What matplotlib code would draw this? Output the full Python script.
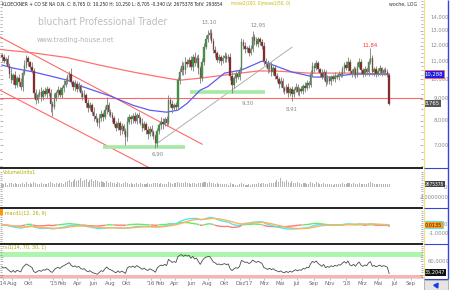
import os
import datetime as dt
import numpy as np
import matplotlib
matplotlib.use("Agg")
import matplotlib.pyplot as plt
from matplotlib import font_manager
from matplotlib.font_manager import FontProperties
from matplotlib.lines import Line2D
from matplotlib.patches import Rectangle
from matplotlib.transforms import blended_transform_factory
from matplotlib.ticker import FixedLocator, NullFormatter

# ---------------- data (weekly candles) ----------------
start_date = "2014-06-23"
first_open = 11.40
closes = [
    11.25, 11.05, 11.15, 10.75, 10.30, 9.95, 10.25, 9.70, 10.05, 9.85,
    9.60, 10.35, 10.80, 11.20, 10.95, 10.70, 10.45, 9.30, 8.95, 9.20,
    9.35, 9.10, 9.40, 9.25, 9.50, 9.30, 8.75, 8.60, 9.05, 9.30,
    9.45, 9.20, 9.55, 9.70, 9.90, 10.10, 10.30, 9.85, 9.60, 9.75,
    9.50, 9.65, 9.30, 9.10, 9.20, 8.80, 8.55, 8.70, 8.40, 8.20,
    8.05, 7.90, 8.10, 8.30, 8.15, 8.45, 8.70, 8.40, 8.25, 8.10,
    7.85, 7.70, 7.90, 7.60, 7.75, 7.55, 7.30, 7.95, 8.15, 8.05,
    8.20, 8.00, 8.25, 8.10, 7.90, 7.70, 7.85, 7.60, 7.45, 7.65,
    7.50, 7.35, 7.10, 7.55, 7.80, 7.95, 7.85, 8.05, 7.90, 8.95,
    8.75, 8.55, 8.70, 8.60, 9.95, 10.40, 10.75, 10.50, 11.00, 10.85,
    11.10, 10.70, 11.30, 10.90, 11.20, 10.60, 10.05, 11.00, 11.90, 12.40,
    12.70, 12.85, 12.30, 11.70, 11.50, 11.10, 11.25, 11.05, 11.20, 11.35,
    11.15, 11.30, 10.20, 9.70, 10.05, 10.30, 10.15, 10.50, 12.20, 12.00,
    11.75, 11.85, 11.55, 11.80, 12.55, 12.30, 12.10, 12.40, 12.20, 12.00,
    11.05, 10.85, 10.55, 10.80, 10.40, 10.60, 10.20, 10.00, 9.75, 9.90,
    9.55, 9.40, 9.60, 9.30, 9.50, 9.25, 9.45, 9.60, 9.35, 9.50,
    9.40, 9.65, 9.55, 9.80, 9.70, 10.30, 10.75, 10.60, 10.90, 10.55,
    10.35, 10.10, 10.40, 9.85, 10.05, 9.90, 10.15, 10.00, 10.20, 10.10,
    10.30, 10.25, 10.55, 10.80, 10.60, 11.00, 10.45, 10.30, 10.55, 10.25,
    10.70, 11.00, 10.50, 10.30, 10.55, 10.40, 10.95, 11.20, 10.40, 10.55,
    10.30, 10.45, 10.60, 10.35, 10.50, 10.40, 10.25, 8.765,
]
wick_up = [
    .15, .20, .10, .25, .15, .30, .10, .20, .15, .25, .20, .15, .30, .20, .15, .10, .25, .15, .20, .10,
    .15, .25, .10, .20, .15, .10, .20, .15, .25, .10, .20, .15, .10, .25, .15, .20, .15, .30, .10, .20,
    .15, .20, .10, .15, .25, .10, .20, .15, .10, .20, .15, .10, .20, .15, .10, .20, .40, .15, .10, .15,
    .10, .15, .20, .10, .15, .10, .15, .20, .15, .10, .15, .20, .10, .15, .10, .20, .15, .10, .15, .10,
    .15, .10, .10, .15, .10, .20, .15, .10, .15, .25, .15, .20, .10, .15, .20, .25, .30, .20, .25, .15,
    .20, .25, .15, .30, .20, .25, .15, .20, .25, .30, .35, .25, .30, .20, .25, .15, .20, .15, .20, .25,
    .20, .15, .25, .20, .15, .20, .15, .20, .30, .20, .25, .15, .20, .25, .40, .20, .25, .15, .20, .25,
    .20, .15, .25, .15, .20, .15, .20, .15, .10, .20, .15, .10, .15, .20, .10, .15, .10, .20, .15, .10,
    .15, .10, .20, .15, .10, .20, .25, .15, .20, .15, .10, .20, .15, .10, .20, .15, .10, .15, .20, .10,
    .15, .10, .20, .15, .25, .30, .15, .10, .20, .15, .25, .20, .15, .10, .20, .15, .20, .64, .20, .15,
    .20, .15, .20, .10, .15, .20, .15, .00,
]
wick_dn = [
    .20, .15, .20, .10, .25, .15, .20, .15, .10, .20, .15, .20, .10, .15, .20, .15, .10, .25, .20, .15,
    .10, .20, .15, .10, .20, .15, .35, .40, .10, .15, .20, .10, .15, .20, .10, .15, .20, .10, .15, .20,
    .15, .10, .20, .15, .10, .20, .15, .10, .15, .20, .10, .15, .20, .10, .15, .10, .15, .20, .10, .15,
    .10, .15, .10, .20, .15, .10, .30, .15, .10, .20, .15, .10, .15, .20, .10, .15, .10, .15, .20, .10,
    .15, .10, .20, .15, .10, .15, .20, .10, .15, .10, .15, .20, .10, .15, .10, .20, .15, .25, .20, .15,
    .15, .20, .25, .15, .20, .30, .25, .15, .20, .15, .20, .25, .15, .20, .25, .15, .20, .25, .15, .20,
    .15, .20, .25, .40, .15, .20, .15, .20, .15, .25, .20, .15, .20, .15, .20, .25, .15, .20, .15, .20,
    .25, .15, .20, .15, .20, .15, .20, .15, .20, .15, .20, .15, .10, .20, .15, .34, .15, .10, .15, .20,
    .10, .15, .20, .10, .15, .10, .15, .20, .10, .15, .20, .10, .15, .20, .10, .15, .20, .10, .15, .10,
    .15, .10, .15, .20, .10, .15, .20, .15, .10, .20, .15, .10, .20, .15, .10, .15, .20, .10, .15, .20,
    .15, .10, .20, .15, .10, .15, .10, .06,
]
volumes_m = [
    3.0, 2.5, 3.8, 2.2, 4.0, 3.5, 2.8, 3.2, 2.6, 3.0, 2.4, 3.6, 3.1, 4.2, 2.9, 3.3, 2.7, 4.5, 3.8, 3.0,
    2.8, 3.4, 2.6, 3.1, 2.5, 3.6, 4.4, 3.2, 2.9, 3.5, 3.0, 4.1, 3.3, 2.8, 4.8, 5.5, 6.2, 4.5, 5.8, 7.5,
    5.2, 6.8, 8.0, 5.5, 6.5, 7.2, 5.0, 6.0, 7.6, 5.4, 6.3, 5.1, 4.5, 5.8, 4.2, 3.8, 5.2, 3.5, 4.6, 3.2,
    3.8, 3.0, 4.2, 3.4, 2.8, 3.6, 5.0, 3.2, 2.9, 3.5, 3.1, 2.6, 3.3, 2.9, 3.7, 2.5, 3.1, 2.8, 3.4, 2.6,
    3.0, 3.5, 4.0, 3.2, 2.7, 3.4, 2.9, 3.1, 2.6, 4.5, 3.3, 3.0, 3.6, 3.2, 4.8, 4.0, 3.5, 3.9, 4.2, 3.4,
    3.6, 3.1, 3.8, 3.3, 3.0, 3.5, 4.0, 3.7, 4.4, 4.9, 3.8, 4.5, 3.6, 3.2, 2.9, 3.4, 2.6, 3.1, 2.8, 3.0,
    2.5, 2.2, 3.5, 3.0, 2.4, 2.0, 1.8, 2.3, 3.8, 2.6, 2.2, 2.0, 2.5, 2.1, 3.0, 2.4, 2.8, 3.2, 2.6, 3.4,
    3.8, 3.0, 2.9, 3.6, 3.3, 4.1, 5.0, 6.8, 4.2, 7.8, 5.5, 4.6, 6.0, 4.3, 3.9, 5.2, 3.8, 3.2, 4.4, 3.6,
    3.0, 4.0, 3.4, 3.1, 2.8, 4.2, 3.6, 3.0, 4.5, 3.3, 3.1, 2.7, 3.6, 2.9, 2.5, 2.8, 2.4, 2.2, 2.6, 2.3,
    2.5, 2.9, 3.4, 3.1, 2.7, 4.0, 3.2, 2.8, 3.6, 2.5, 2.9, 3.8, 3.0, 2.6, 3.1, 2.7, 3.5, 4.6, 3.2, 2.8,
    2.6, 3.0, 2.4, 2.9, 2.5, 2.7, 2.3, 2.675378,
]

# moving averages (week index, value)
ma50_week = [0, 6, 17, 35, 43, 58, 70, 79, 88, 94, 99, 106, 110, 119, 128, 139, 142, 155, 167, 176, 187, 207]
ma50_val = [10.80, 10.62, 10.40, 9.95, 9.61, 9.13, 8.69, 8.46, 8.37, 8.46, 8.78, 9.43, 9.61, 10.34,
            10.51, 11.03, 10.92, 10.40, 10.12, 10.12, 10.28, 10.28]
ma200_week = [-1, 17, 35, 52, 70, 88, 95, 106, 119, 137, 146, 164, 190, 207]
ma200_val = [11.75, 11.53, 11.24, 10.80, 10.40, 10.06, 9.95, 10.06, 10.23, 10.46, 10.46, 10.34, 10.34, 10.28]

# drawn lines (week index / price)
chan_upper_week = [-1.1, 107]
chan_upper_val = [12.57, 7.04]
chan_lower_week = [-1.1, 79]
chan_lower_val = [9.43, 6.19]
trend_week = [82.5, 155]
trend_val = [7.05, 11.89]
hline_red = 9.05
support_weeks = [(54, 98), (100.5, 140.5)]
support_vals = [6.93, 9.36]

peak_labels = ["13,10", "12,95", "11,84", "9,30", "8,91", "6,90"]
peak_weeks = [111, 137, 197, 131.5, 155, 83.5]
peak_vals = [13.6, 13.42, 12.05, 8.80, 8.52, 6.66]
peak_colors = ["#888888", "#888888", "#ff3030", "#888888", "#888888", "#888888"]

price_ticks = [7, 8, 9, 10, 11, 12, 13, 14]
price_tick_labels = ["7,000", "8,000", "9,000", "10,000", "11,000", "12,000", "13,000", "14,000"]

tick_labels = ["'14", "Aug", "Okt", "'15", "Feb", "Apr", "Jun", "Aug", "Okt", "'16", "Feb", "Apr",
               "Jun", "Aug", "Okt", "Dez", "'17", "Mrz", "Mai", "Jul", "Sep", "Nov", "'18", "Mrz",
               "Mai", "Jul", "Sep"]
tick_dates = ["2014-06-26", "2014-08-01", "2014-10-01", "2015-01-01", "2015-02-03", "2015-04-01",
              "2015-06-01", "2015-08-01", "2015-10-01", "2016-01-01", "2016-02-03", "2016-04-01",
              "2016-06-01", "2016-08-01", "2016-10-01", "2016-12-01", "2017-01-01", "2017-03-01",
              "2017-05-01", "2017-07-01", "2017-09-01", "2017-11-01", "2018-01-01", "2018-03-01",
              "2018-05-01", "2018-07-01", "2018-09-01"]

header_text = ("KLOECKNER + CO SE NA O.N. C: 8,765 O: 10,250 H: 10,250 L: 8,705 -0,340 "
               "LV: 2675378 TotV: 293854")

# ---------------- fonts ----------------
def pick_font():
    files = {}
    try:
        for p in font_manager.findSystemFonts():
            files[os.path.basename(p)] = p
    except Exception:
        pass
    for f in font_manager.fontManager.ttflist:
        files[os.path.basename(f.fname)] = f.fname
    for name in ["LiberationSansNarrow-Regular.ttf", "DejaVuSansCondensed.ttf",
                 "RobotoCondensed-Regular.ttf", "OpenSans_Condensed-Regular.ttf"]:
        if name in files:
            return files[name]
    return None

nf = pick_font()
def fp(size):
    if nf:
        return FontProperties(fname=nf, size=size)
    return FontProperties(family="DejaVu Sans", size=size)

# ---------------- figure ----------------
W, H = 450, 290
fig = plt.figure(figsize=(W / 100, H / 100), dpi=100)
fig.patch.set_facecolor("white")

def ax_px(x0, y0, x1, y1):
    return fig.add_axes([x0 / W, 1 - y1 / H, (x1 - x0) / W, (y1 - y0) / H])

PX_R = 423
n = min(len(closes), len(wick_up), len(wick_dn), len(volumes_m))
idx = np.arange(n)
c = np.array(closes[:n])
o = np.concatenate([[first_open], c[:-1]])
hi = np.maximum(o, c) + np.array(wick_up[:n])
lo = np.minimum(o, c) - np.array(wick_dn[:n])
vol = np.array(volumes_m[:n])
d0 = dt.date.fromisoformat(start_date)
XL = (-1.07, 225.1)

ax = ax_px(0, 0, PX_R, 168)
axv = ax_px(0, 169, PX_R, 207)
axm = ax_px(0, 209, PX_R, 244)
axr = ax_px(0, 245, PX_R, 278)

for a in (ax, axv, axm, axr):
    a.set_xlim(*XL)
    a.set_facecolor("white")
    for s in a.spines.values():
        s.set_visible(False)
    a.set_xticks([])
    a.tick_params(axis="y", which="both", direction="in", right=True, left=True,
                  labelleft=False, labelright=False, length=2, width=0.4, color="#777777")
    a.tick_params(axis="y", which="minor", length=1.2)

# ---- main price panel ----
ax.set_yscale("log")
ax.set_ylim(6.19, 15.35)
ax.yaxis.set_major_locator(FixedLocator(price_ticks))
ax.yaxis.set_minor_locator(FixedLocator(np.arange(6.25, 15.3, 0.25)))
ax.yaxis.set_major_formatter(NullFormatter())
ax.yaxis.set_minor_formatter(NullFormatter())

# watermark
ax.text(38 / PX_R, 1 - 22 / 168, "bluchart Professional Trader", transform=ax.transAxes,
        fontproperties=fp(7.4), color="#bdbdbd", ha="left", va="center", zorder=0)
ax.text(37 / PX_R, 1 - 40 / 168, "www.trading-house.net", transform=ax.transAxes,
        fontproperties=fp(5.3), color="#b2b2b2", ha="left", va="center", zorder=0)

# channel / trend lines
ax.plot(chan_upper_week, chan_upper_val, color="#ff6868", lw=0.8, zorder=1)
ax.plot(chan_lower_week, chan_lower_val, color="#ff6868", lw=0.8, zorder=1)
ax.axhline(hline_red, color="#ff6868", lw=0.8, zorder=1)
ax.plot(trend_week, trend_val, color="#b0b0b0", lw=0.7, zorder=1)
for (w0, w1), v in zip(support_weeks, support_vals):
    ax.plot([w0, w1], [v, v], color="#a6e8a6", lw=2.6, solid_capstyle="butt", zorder=1)

# moving averages
ax.plot(ma200_week, ma200_val, color="#ff7070", lw=0.9, zorder=2)
ax.plot(ma50_week, ma50_val, color="#5c5cf2", lw=0.9, zorder=2)

# candles
up = c >= o
ax.vlines(idx, lo, hi, color="#858585", lw=0.65, zorder=3)
body_lo = np.minimum(o, c)
body_h = np.maximum(np.abs(c - o), 0.03)
ax.bar(idx, body_h, bottom=body_lo, width=0.8,
       color=np.where(up, "#2f9a2f", "#8e1414"), edgecolor="#7a7a7a", linewidth=0.3, zorder=4)

for t, w, v, col in zip(peak_labels, peak_weeks, peak_vals, peak_colors):
    ax.text(w, v, t, fontproperties=fp(4.3), color=col, ha="center", va="center", zorder=5)

# header
ax.text(2 / PX_R, 1 - 4 / 168, header_text, transform=ax.transAxes, fontproperties=fp(3.5),
        color="#222222", ha="left", va="center", zorder=6)
ax.text(231 / PX_R, 1 - 4 / 168, "move2(200, 0)", transform=ax.transAxes, fontproperties=fp(3.3),
        color="#c8b400", ha="left", va="center", zorder=6)
ax.text(262 / PX_R, 1 - 4 / 168, "move1(50, 0)", transform=ax.transAxes, fontproperties=fp(3.3),
        color="#c8b400", ha="left", va="center", zorder=6)
ax.text(403 / PX_R, 1 - 4 / 168, "woche, LOG", transform=ax.transAxes, fontproperties=fp(3.8),
        color="#333333", ha="center", va="center", zorder=6)

# ---- volume panel ----
axv.set_ylim(-18.2, 16.4)
axv.yaxis.set_major_locator(FixedLocator([-10, 0]))
axv.yaxis.set_minor_locator(FixedLocator(np.arange(-16, 16, 2)))
axv.bar(idx, vol, width=0.55, color="#b4b4b4", zorder=2)
axv.text(3 / PX_R, 1 - 4 / 38, "VolumeUnits1", transform=axv.transAxes, fontproperties=fp(3.9),
         color="#b8a800", ha="left", va="center")

# ---- MACD panel ----
def ema(x, span):
    a = 2.0 / (span + 1)
    out = np.empty(len(x))
    out[0] = x[0]
    for k in range(1, len(x)):
        out[k] = a * x[k] + (1 - a) * out[k - 1]
    return out

macd = ema(c, 12) - ema(c, 26)
sig = ema(macd, 9)
hist = macd - sig
axm.set_ylim(-2.375, 2.0)
axm.yaxis.set_major_locator(FixedLocator([-1, 0]))
axm.yaxis.set_minor_locator(FixedLocator(np.arange(-2.25, 2.0, 0.25)))
hp = np.where(hist >= 0, hist, np.nan)
hn = np.where(hist < 0, hist, np.nan)
axm.plot(idx, hp, color="#6ee66e", lw=1.0, zorder=2)
axm.plot(idx, hn, color="#ff7a7a", lw=1.0, zorder=2)
axm.plot(idx, macd, color="#55e8f0", lw=1.0, zorder=3)
axm.plot(idx, sig, color="#ffb35c", lw=1.0, zorder=4)
axm.text(5 / PX_R, 1 - 4 / 35, "macd1(12, 26, 9)", transform=axm.transAxes, fontproperties=fp(3.9),
         color="#b8a800", ha="left", va="center")
fig.add_artist(Rectangle((0, 1 - 215 / H), 3 / W, 6 / H, transform=fig.transFigure,
                         facecolor="#ff9900", edgecolor="none"))

# ---- RSI panel ----
def rsi(x, n_=14):
    d = np.diff(x)
    g = np.where(d > 0, d, 0.0)
    l_ = np.where(d < 0, -d, 0.0)
    ag = np.empty(len(x)); al = np.empty(len(x))
    ag[0] = g[:n_].mean(); al[0] = l_[:n_].mean()
    for k in range(1, len(x)):
        ag[k] = (ag[k - 1] * (n_ - 1) + g[k - 1]) / n_
        al[k] = (al[k - 1] * (n_ - 1) + l_[k - 1]) / n_
    return 100 - 100 / (1 + ag / np.maximum(al, 1e-9))

r = rsi(c)
axr.set_ylim(22.5, 96.6)
axr.yaxis.set_major_locator(FixedLocator([30, 60, 70]))
axr.yaxis.set_minor_locator(FixedLocator(np.arange(25, 96, 5)))
axr.axhspan(70, 81, color="#adf5ad", lw=0, zorder=0)
axr.axhspan(20, 30, color="#f9b3b3", lw=0, zorder=0)
axr.plot(idx, r, color="#4a4a4a", lw=0.6, zorder=2)
axr.text(3 / PX_R, 1 - 3 / 33, "rsi1(14, 70, 30, 1)", transform=axr.transAxes, fontproperties=fp(3.9),
         color="#b8a800", ha="left", va="center")

# x axis
tick_pos = [(dt.date.fromisoformat(s) - d0).days / 7.0 for s in tick_dates]
axr.set_xticks(tick_pos)
axr.set_xticklabels(tick_labels)
for lbl in axr.get_xticklabels():
    lbl.set_fontproperties(fp(4.3))
    lbl.set_color("#6a6a6a")
axr.tick_params(axis="x", direction="out", length=1.2, width=0.4, color="#888888", pad=1.2)
axr.spines["bottom"].set_visible(True)
axr.spines["bottom"].set_color("#cccccc")
axr.spines["bottom"].set_linewidth(0.5)

# ---- separators & right scale strip ----
def fline(x0, y0, x1, y1, color, lw):
    fig.add_artist(Line2D([x0 / W, x1 / W], [1 - y0 / H, 1 - y1 / H], transform=fig.transFigure,
                          color=color, lw=lw, solid_capstyle="butt", zorder=10))

for yy in (168.3, 208.0, 244.3):
    fline(0, yy, PX_R, yy, "#111111", 1.3)
fline(423.5, 0, 423.5, 279, "#f3df8c", 0.9)
fline(447.6, 0, 447.6, 279, "#3346d6", 1.0)
for yy in (168.0, 208.0, 244.0, 279.0):
    fline(423.5, yy, 448, yy, "#3346d6", 0.8)

def scale_label(a, val, txt, xr=449, color="#8a8a8a"):
    tr = blended_transform_factory(fig.transFigure, a.transData)
    a.text(xr / W, val, txt, transform=tr, fontproperties=fp(4.2), color=color,
           ha="right", va="center", clip_on=False, zorder=8)

def box_label(a, val, txt, fc, tc, ec="none", size=4.2):
    tr = blended_transform_factory(fig.transFigure, a.transData)
    a.text(424.8 / W, val, txt, transform=tr, fontproperties=fp(size), color=tc, ha="left",
           va="center", clip_on=False, zorder=9,
           bbox=dict(boxstyle="square,pad=0.18", fc=fc, ec=ec, lw=0.6))

for v, t in zip(price_ticks, price_tick_labels):
    scale_label(ax, v, t)
box_label(ax, 10.288, "10,288", "#1c1ce6", "white", ec="#ff6060")
box_label(ax, 8.765, "8,765", "#555555", "white")

scale_label(axv, 0, "0", xr=447)
scale_label(axv, -10, "-10000000")
box_label(axv, 2.675378, "2675378", "#444444", "white", size=3.5)

scale_label(axm, 0, "0", xr=447)
scale_label(axm, -1, "-1,0000")
box_label(axm, 0.0135, "0,0135", "#ff9d1a", "#222222", ec="#40e8f0", size=4.0)

scale_label(axr, 60, "60,0000")
box_label(axr, 35.2047, "35,2047", "#111111", "white", size=4.0)

# corner button
fig.add_artist(Rectangle((424 / W, 0), 24 / W, 10 / H, transform=fig.transFigure,
                         facecolor="#e4e4e4", edgecolor="#9a9a9a", lw=0.5, zorder=10))
fig.add_artist(Line2D([436 / W], [5 / H], transform=fig.transFigure, marker=(3, 0, -35),
                      color="#1a3ce0", markersize=4, zorder=11))

fig.savefig("out.png", dpi=100)
